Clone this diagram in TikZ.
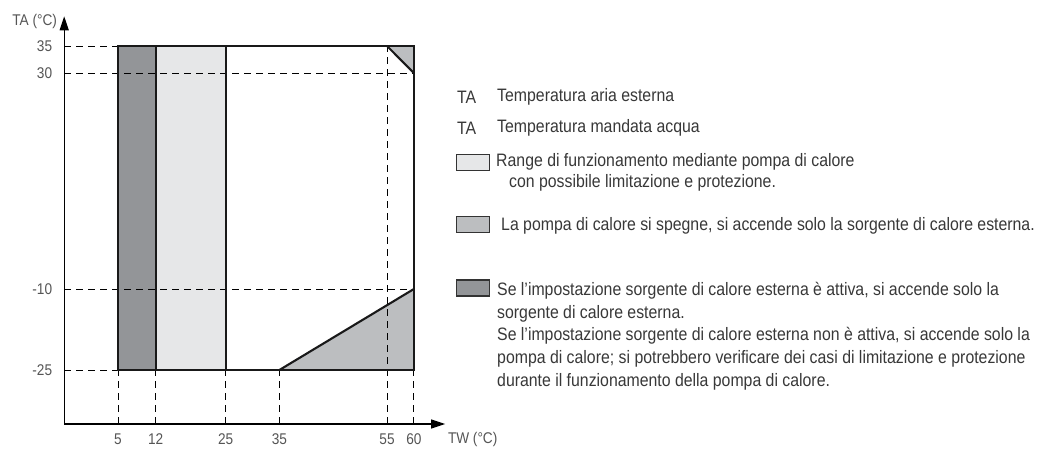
\documentclass[tikz,border=0pt]{standalone}
\usepackage{fontspec}
\setmainfont{Liberation Sans}[FakeStretch=0.88]
\usetikzlibrary{arrows.meta}

\definecolor{darkzone}{HTML}{939598}
\definecolor{midzone}{HTML}{BCBEC0}
\definecolor{lightzone}{HTML}{E6E7E8}
\definecolor{labelgray}{HTML}{555555}
\definecolor{textgray}{HTML}{383838}

\begin{document}
\begin{tikzpicture}[x=1pt,y=1pt,
	zone/.style={draw=black!90,line width=2.1pt},
	guide/.style={dash pattern=on 7pt off 5pt,line width=0.9pt},
	axis/.style={line width=1.3pt,-{Triangle[length=14pt,width=9pt]}},
	ticklabel/.style={text=labelgray,inner sep=0pt,font=\fontsize{15.5}{18}\selectfont},
	legendtext/.style={text=textgray,inner sep=0pt,anchor=west,align=left,font=\fontsize{18}{22.7}\selectfont},
	keybox/.style={draw=black!80,line width=1.1pt,minimum width=33pt,minimum height=16pt,inner sep=0pt}]
\useasboundingbox (0,0) rectangle (1041,449);

% diagramma TW / TA
\begin{scope}[shift={(91.1,214)},x=5.38pt,y=5.4pt]
\fill[darkzone] (5,-25) rectangle (12,35);
\fill[lightzone] (12,-25) rectangle (25,35);
\fill[midzone] (55,35) -- (60,35) -- (60,30) -- cycle;
\fill[midzone] (35,-25) -- (60,-25) -- (60,-10) -- cycle;

\draw[guide]
(-5,35) -- (5,35)
(-5,30) -- (60,30)
(-5,-10) -- (60,-10)
(-5,-25) -- (5,-25)
(55,-35) -- (55,35);
\foreach \tw in {5,12,25,35,60}
	\draw[guide] (\tw,-35) -- (\tw,-25);

\draw[zone] (5,-25) rectangle (12,35);
\draw[zone] (12,-25) rectangle (25,35);
\draw[zone] (25,35) -- (60,35) -- (60,-25) -- (25,-25);
\draw[zone] (55,35) -- (60,30);
\draw[zone] (35,-25) -- (60,-10);

\coordinate (o) at (-5,-35);
\coordinate (twend) at (65.8,-35);
\coordinate (taend) at (-5,40.5);
\draw[axis] (o) -- (twend);
\draw[axis] (o) -- (taend);

\node[ticklabel,anchor=east] (talabel) at (-6.3,39.6) {TA (°C)};
\foreach \ta in {35,30,-10,-25}
	\node[ticklabel,anchor=east] (ta\ta) at (-7.2,\ta) {\ta};
\foreach \tw in {5,12,25,35,55,60}
	\node[ticklabel] (tw\tw) at (\tw,-37.8) {\tw};
\node[ticklabel,anchor=west] (twlabel) at (66.3,-37.8) {TW (°C)};
\end{scope}

% legenda
\node[legendtext] (ta1) at (457,352) {TA};
\node[legendtext] (ta1text) at (497,352) {Temperatura aria esterna};
\node[legendtext] (ta2) at (457,321) {TA};
\node[legendtext] (ta2text) at (497,321) {Temperatura mandata acqua};

\node[keybox,fill=lightzone] (keylight) at (473,286.5) {};
\node[legendtext] (lighttext) at (496,287) {Range di funzionamento mediante pompa di calore};
\node[legendtext] (lighttext2) at (509,266) {con possibile limitazione e protezione.};

\node[keybox,fill=midzone] (keymid) at (473,224.5) {};
\node[legendtext] (midtext) at (501,223) {La pompa di calore si spegne, si accende solo la sorgente di calore esterna.};

\node[keybox,fill=darkzone] (keydark) at (473,161) {};
\node[legendtext,anchor=north west] (darktext) at (497,167) {Se l’impostazione sorgente di calore esterna è attiva, si accende solo la\\
sorgente di calore esterna.\\
Se l’impostazione sorgente di calore esterna non è attiva, si accende solo la\\
pompa di calore; si potrebbero verificare dei casi di limitazione e protezione\\
durante il funzionamento della pompa di calore.};
\end{tikzpicture}
\end{document}
